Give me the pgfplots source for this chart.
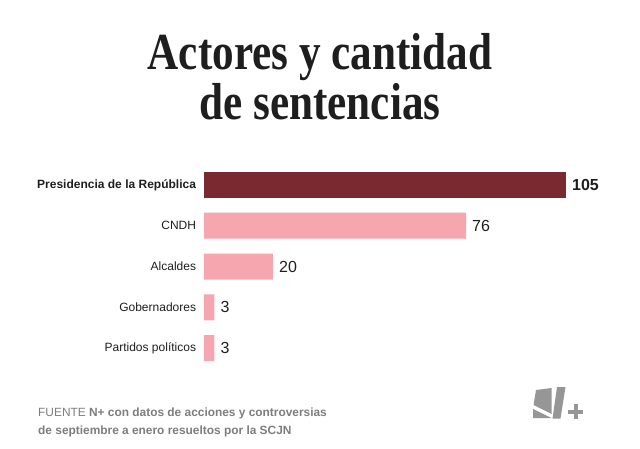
\documentclass[border=0pt]{standalone}
\usepackage{fontspec}
\usepackage{pgfplots}
\pgfplotsset{compat=1.18}
\setmainfont{Liberation Sans}
\newfontfamily\titlefont[FakeStretch=0.83]{Liberation Serif}

\definecolor{barDark}{RGB}{122,41,49}
\definecolor{barPink}{RGB}{246,166,174}
\definecolor{noteGray}{RGB}{125,125,125}
\definecolor{logoGray}{RGB}{150,150,150}
\definecolor{textDark}{RGB}{30,30,30}

\begin{document}
\begin{tikzpicture}[x=1pt,y=-1pt]
\path[use as bounding box] (0,0) rectangle (640,449);

% title
\node[anchor=base, inner sep=0pt, text=textDark] at (320,70)
  {\titlefont\bfseries\fontsize{52}{56}\selectfont Actores y cantidad};
\node[anchor=base, inner sep=0pt, text=textDark] at (320,120)
  {\titlefont\bfseries\fontsize{52}{56}\selectfont de sentencias};

\begin{axis}[
  at={(204pt,-368.5pt)}, anchor=south west,
  scale only axis, width=362pt, height=204pt,
  xmin=0, xmax=105,
  ymin=-0.5, ymax=4.5, y dir=reverse,
  xbar, bar width=26pt, bar shift=0pt,
  axis line style={draw=none}, tick style={draw=none},
  xtick=\empty,
  ytick={0,1,2,3,4},
  yticklabels={\textbf{Presidencia de la República}, CNDH, Alcaldes, Gobernadores, Partidos políticos},
  yticklabel style={font=\fontsize{12}{14}\selectfont, text=textDark, inner xsep=0pt, xshift=-3.5pt},
  /pgf/number format/assume math mode=true,
  nodes near coords,
  nodes near coords align={horizontal},
  every node near coord/.append style={font=\fontsize{16}{18}\selectfont, text=textDark, inner xsep=0pt, xshift=6pt},
  clip=false,
]
\addplot[fill=barDark, draw=none,
  every node near coord/.append style={font=\bfseries\fontsize{16}{18}\selectfont}]
  coordinates {(105,0)};
\addplot[fill=barPink, draw=none]
  coordinates {(76,1) (20,2) (3,3) (3,4)};
\end{axis}

% source note
\node[anchor=base west, inner sep=0pt, text=noteGray] at (38,416)
  {\fontsize{11.9}{13}\selectfont FUENTE \textbf{N+ con datos de acciones y controversias}};
\node[anchor=base west, inner sep=0pt, text=noteGray] at (38,434)
  {\fontsize{11.9}{13}\selectfont\bfseries de septiembre a enero resueltos por la SCJN};

% N+ logo
\fill[logoGray] (536,390) -- (551.5,388) -- (551.5,414) -- (533.5,405) -- cycle;
\fill[logoGray] (533,409) -- (551.5,418) -- (533,418) -- cycle;
\fill[logoGray] (557,387) -- (565.5,387) -- (560.5,418.5) -- (552.5,418.5) -- cycle;
\fill[logoGray] (568,409.5) rectangle (583,413.5);
\fill[logoGray] (573.5,404) rectangle (577.5,419);
\end{tikzpicture}
\end{document}
